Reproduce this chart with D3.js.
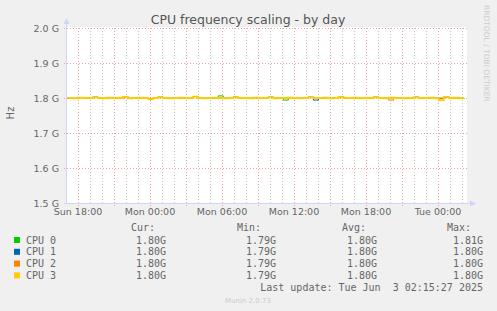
<!DOCTYPE html>
<html>
<head>
<meta charset="utf-8">
<script src="https://cdn.jsdelivr.net/npm/d3@7"></script>
<style>
  body { margin: 0; background: #f0f0f0; }
  svg { display: block; }
</style>
</head>
<body>
<div id="chart"></div>
<script>
// samples in MHz, one every ~25 minutes over the day window
const cpu0 = [1800,1799,1801,1800,1800,1802,1800,1799,1801,1800, 1800,1803,1799,1800,1801,1800,1797,1800,1802,1800, 1799,1800,1801,1800,1800,1804,1800,1799,1800,1801, 1806,1799,1800,1802,1800,1800,1799,1801,1800,1800, 1802,1799,1800,1794,1801,1800,1799,1800,1802,1800, 1800,1801,1799,1800,1803,1800,1800,1801,1799,1800, 1800,1802,1800,1799,1801,1800,1800,1799,1800,1802, 1800,1800,1801,1799,1799,1803,1800,1801,1799,1800];
const cpu1 = [1800,1799,1801,1800,1800,1802,1800,1799,1801,1800, 1800,1803,1799,1800,1801,1800,1797,1800,1802,1800, 1799,1800,1801,1800,1800,1804,1800,1799,1800,1801, 1800,1799,1800,1802,1800,1800,1799,1801,1800,1800, 1802,1799,1800,1800,1801,1800,1799,1800,1802,1794, 1800,1801,1799,1800,1803,1800,1800,1801,1799,1800, 1800,1802,1800,1799,1801,1800,1800,1799,1800,1802, 1800,1800,1801,1799,1799,1803,1800,1801,1799,1800];
const cpu2 = [1800,1799,1801,1800,1800,1802,1800,1799,1801,1800, 1800,1803,1799,1800,1801,1800,1797,1800,1802,1800, 1799,1800,1801,1800,1800,1804,1800,1799,1800,1801, 1800,1799,1800,1802,1800,1800,1799,1801,1800,1800, 1802,1799,1800,1800,1801,1800,1799,1800,1802,1800, 1800,1801,1799,1800,1803,1800,1800,1801,1799,1800, 1800,1802,1800,1799,1794,1800,1800,1799,1800,1802, 1800,1800,1801,1799,1799,1803,1800,1801,1799,1800];
const cpu3 = [1800,1799,1801,1800,1800,1802,1800,1799,1801,1800, 1800,1803,1799,1800,1801,1800,1797,1800,1802,1800, 1799,1800,1801,1800,1800,1804,1800,1799,1800,1801, 1800,1799,1800,1802,1800,1800,1799,1801,1800,1800, 1802,1799,1800,1800,1801,1800,1799,1800,1802,1800, 1800,1801,1799,1800,1803,1800,1800,1801,1799,1800, 1800,1802,1800,1799,1801,1800,1800,1799,1800,1802, 1800,1800,1801,1799,1794,1803,1800,1801,1799,1800];

const seriesNames = ["CPU 0", "CPU 1", "CPU 2", "CPU 3"];
const seriesData = [cpu0, cpu1, cpu2, cpu3];
const seriesColors = ["#00cc00", "#0066b3", "#ff8000", "#ffcc00"];
const yTicks = [1.5e9, 1.6e9, 1.7e9, 1.8e9, 1.9e9, 2.0e9];
const timeStart = new Date(Date.UTC(2025, 5, 1, 17, 5));
const timeEnd = new Date(Date.UTC(2025, 5, 3, 2, 25));
const lastUpdate = "Last update: Tue Jun  3 02:15:27 2025";

const W = 497, H = 311;
const plot = { left: 67, right: 467, top: 28, bottom: 203 };
const fontColor = "#666";

const svg = d3.select("#chart").append("svg")
  .attr("width", W).attr("height", H)
  .style("font-family", "'DejaVu Sans', sans-serif");

svg.append("rect").attr("width", W).attr("height", H).attr("fill", "#f0f0f0");
svg.append("rect")
  .attr("x", plot.left).attr("y", plot.top - 1)
  .attr("width", plot.right - plot.left).attr("height", plot.bottom - plot.top + 1)
  .attr("fill", "#fff");

const x = d3.scaleUtc().domain([timeStart, timeEnd]).range([plot.left, plot.right]);
const y = d3.scaleLinear().domain([1.5e9, 2.0e9]).range([plot.bottom, plot.top]);

// vertical grid: grey every hour, red every 3 hours
const minorHours = x.ticks(d3.utcHour.every(1)).filter(d => d.getUTCHours() % 3 !== 0);
const majorHours = x.ticks(d3.utcHour.every(3));
svg.append("g").selectAll("line").data(minorHours).join("line")
  .attr("x1", d => Math.round(x(d)) + 0.5).attr("x2", d => Math.round(x(d)) + 0.5)
  .attr("y1", plot.top).attr("y2", plot.bottom + 2)
  .attr("stroke", "#c8c8c8").attr("stroke-dasharray", "1,2");
svg.append("g").selectAll("line").data(majorHours).join("line")
  .attr("x1", d => Math.round(x(d)) + 0.5).attr("x2", d => Math.round(x(d)) + 0.5)
  .attr("y1", plot.top).attr("y2", plot.bottom + 3)
  .attr("stroke", "#eba3a3").attr("stroke-dasharray", "1,2");

// horizontal grid
svg.append("g").selectAll("line").data(yTicks).join("line")
  .attr("x1", plot.left - 3).attr("x2", plot.right + 2)
  .attr("y1", d => Math.round(y(d)) + 0.5).attr("y2", d => Math.round(y(d)) + 0.5)
  .attr("stroke", "#eba3a3").attr("stroke-dasharray", "1,2");

// y labels
svg.append("g").selectAll("text").data(yTicks).join("text")
  .attr("x", 59).attr("y", d => y(d) + 3.5)
  .attr("text-anchor", "end").attr("font-size", 9.5).attr("fill", fontColor)
  .text(d => (d / 1e9).toFixed(1) + " G");

// x labels
svg.append("g").selectAll("text").data(x.ticks(d3.utcHour.every(6))).join("text")
  .attr("x", d => x(d)).attr("y", 215)
  .attr("text-anchor", "middle").attr("font-size", 9.5).attr("fill", fontColor)
  .text(d => d3.utcFormat("%a %H:%M")(d));

// series lines
const step = (timeEnd - timeStart - 20 * 60000) / (cpu3.length - 1);
const line = d3.line()
  .x((d, i) => x(new Date(+timeStart + 4 * 60000 + i * step)))
  .y(d => y(d * 1e6))
  .curve(d3.curveStepAfter);
seriesData.forEach((vals, k) => {
  svg.append("path").datum(vals)
    .attr("d", line).attr("fill", "none")
    .attr("stroke", seriesColors[k]).attr("stroke-width", k === 3 ? 1.8 : 1);
});

// axes
const axisColor = "#cfd6f8";
svg.append("line").attr("x1", plot.left - 0.5).attr("x2", plot.left - 0.5)
  .attr("y1", plot.bottom + 0.5).attr("y2", plot.top - 4).attr("stroke", axisColor);
svg.append("line").attr("x1", plot.left - 3).attr("x2", plot.right + 3)
  .attr("y1", plot.bottom + 0.5).attr("y2", plot.bottom + 0.5).attr("stroke", axisColor);
svg.append("path").attr("d", `M${plot.left - 3.5},${plot.top - 4} L${plot.left + 2.5},${plot.top - 4} L${plot.left - 0.5},${plot.top - 10} Z`)
  .attr("fill", axisColor);
svg.append("path").attr("d", `M${plot.right + 3},${plot.bottom - 2.5} L${plot.right + 3},${plot.bottom + 3.5} L${plot.right + 9},${plot.bottom + 0.5} Z`)
  .attr("fill", axisColor);

// title and side texts
svg.append("text").attr("x", 248).attr("y", 24)
  .attr("text-anchor", "middle").attr("font-size", 12.5).attr("fill", "#555")
  .text("CPU frequency scaling - by day");
svg.append("text").attr("transform", "translate(14,113) rotate(-90)")
  .attr("text-anchor", "middle").attr("font-size", 10).attr("fill", fontColor)
  .text("Hz");
svg.append("text").attr("transform", "translate(484,5) rotate(90)")
  .attr("font-size", 7.5).attr("fill", "#cccccc")
  .text("RRDTOOL / TOBI OETIKER");

// legend
const mono = "'DejaVu Sans Mono', monospace";
const fmtG = v => (v / 1000).toFixed(2) + "G";
const cols = [
  { head: "Cur:", hx: 131, vx: 166, f: a => a[a.length - 1] },
  { head: "Min:", hx: 237, vx: 276, f: a => d3.min(a) },
  { head: "Avg:", hx: 342, vx: 377, f: a => d3.mean(a) },
  { head: "Max:", hx: 447, vx: 483, f: a => d3.max(a) }
];
const legend = svg.append("g").attr("font-family", mono).attr("font-size", 10).attr("fill", fontColor);
cols.forEach(c => legend.append("text").attr("x", c.hx).attr("y", 231).text(c.head));
seriesNames.forEach((name, k) => {
  const ry = 243.5 + k * 11.8;
  legend.append("rect").attr("x", 14).attr("y", ry - 6.5).attr("width", 6).attr("height", 6)
    .attr("fill", seriesColors[k]);
  legend.append("text").attr("x", 26).attr("y", ry).text(name);
  cols.forEach(c => legend.append("text").attr("x", c.vx).attr("y", ry)
    .attr("text-anchor", "end").text(fmtG(c.f(seriesData[k]))));
});
legend.append("text").attr("x", 483).attr("y", 291).attr("text-anchor", "end")
  .attr("xml:space", "preserve").style("white-space", "pre").text(lastUpdate);

svg.append("text").attr("x", 248).attr("y", 303)
  .attr("text-anchor", "middle").attr("font-size", 7).attr("fill", "#cccccc")
  .text("Munin 2.0.73");
</script>
</body>
</html>
